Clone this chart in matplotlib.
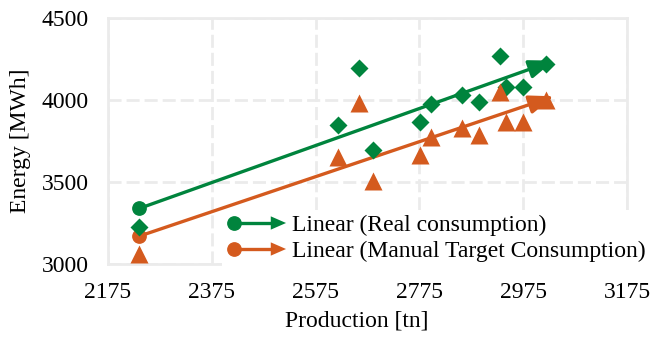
import numpy as np
import matplotlib
matplotlib.use("Agg")
import matplotlib.pyplot as plt
from matplotlib.lines import Line2D
from matplotlib.patches import Polygon
from matplotlib.legend_handler import HandlerBase
from matplotlib.transforms import ScaledTranslation

# ---------------- data ----------------
production = [2235, 2619, 2658, 2685, 2777, 2797, 2858, 2890, 2930, 2942, 2975, 3019]
real_consumption = [3225, 3847, 4198, 3695, 3866, 3977, 4031, 3988, 4268, 4081, 4077, 4219]
target_consumption = [3061, 3650, 3984, 3506, 3665, 3776, 3827, 3787, 4051, 3868, 3868, 3998]

x_ticks = [2175, 2375, 2575, 2775, 2975, 3175]
y_ticks = [3000, 3500, 4000, 4500]

green = "#00843D"
orange = "#D45A1E"
grid_c = "#EBEBEB"

plt.rcParams["font.family"] = ["Liberation Serif", "DejaVu Serif"]
plt.rcParams["font.size"] = 17


class TrendHandler(HandlerBase):
    """circle -> line -> arrow head, like the trendline itself"""
    def create_artists(self, legend, orig_handle, xdescent, ydescent,
                       width, height, fontsize, trans):
        c = orig_handle.get_color()
        y = height / 2 - ydescent
        x0 = -xdescent + 5
        x1 = -xdescent + width
        head, hw = 11, 4.8
        line = Line2D([x0, x1 - head + 1], [y, y], color=c, lw=2.4)
        dot = Line2D([x0], [y], marker="o", ms=9.6, color=c, lw=0)
        tip = Polygon([[x1 - head, y + hw], [x1, y], [x1 - head, y - hw]],
                      closed=True, fc=c, ec="none")
        for a in (line, dot, tip):
            a.set_transform(trans)
        return [line, dot, tip]


fig = plt.figure(figsize=(6.53, 3.38), dpi=100)
ax = fig.add_axes([108 / 653, 1 - 264 / 338, 519 / 653, 246 / 338])
ax.set_xlim(2175, 3175)
ax.set_ylim(3000, 4500)

x = np.array(production, dtype=float)
series = [
    (real_consumption, green, "D", 8.7, "Linear (Real consumption)"),
    (target_consumption, orange, "^", 13, "Linear (Manual Target Consumption)"),
]

handles = []
for vals, c, mk, ms, lab in series:
    y = np.array(vals, dtype=float)
    ax.plot(x, y, linestyle="none", marker=mk, ms=ms, color=c, mec="none", zorder=5)
    # linear trendline over the data range
    k, b = np.polyfit(x, y, 1)
    xs, xe = x.min(), x.max()
    p0 = ax.transData.transform((xs, k * xs + b))
    p1 = ax.transData.transform((xe, k * xe + b))
    u = (p1 - p0) / np.hypot(*(p1 - p0))
    # let the arrow tip poke a little past the last point
    tip_tr = ax.transData + ScaledTranslation(u[0] * 6 / 72, u[1] * 6 / 72,
                                              fig.dpi_scale_trans)
    ax.annotate("", xy=(xe, k * xe + b), xycoords=tip_tr,
                xytext=(xs, k * xs + b), textcoords="data",
                arrowprops=dict(arrowstyle="-|>,head_length=0.75,head_width=0.28",
                                color=c, lw=2.4, shrinkA=0, shrinkB=0,
                                mutation_scale=20), zorder=4)
    ax.plot([xs], [k * xs + b], marker="o", ms=9.6, color=c, lw=0, zorder=4.5)
    handles.append(Line2D([], [], color=c, label=lab))

ax.set_xticks(x_ticks)
ax.set_yticks(y_ticks)
ax.tick_params(length=0)
ax.tick_params(axis="x", pad=13)
ax.tick_params(axis="y", pad=14)

ax.grid(True, color=grid_c, lw=2, linestyle=(0, (4.7, 1.8)))
ax.set_axisbelow(True)
for s in ax.spines.values():
    s.set_color(grid_c)
    s.set_linewidth(2)

ax.set_xlabel("Production [tn]")
ax.set_ylabel("Energy [MWh]")
ax.xaxis.set_label_coords((357 - 108) / 519, -(310 - 264) / 246)
ax.yaxis.set_label_coords(-(108 - 31) / 519, 0.5)

leg = ax.legend(handles=handles, handler_map={Line2D: TrendHandler()},
                loc="center left", bbox_to_anchor=(222.3 / 653, 1 - 238.5 / 338),
                bbox_transform=fig.transFigure, frameon=True, facecolor="white",
                edgecolor="none", framealpha=1, fancybox=False,
                handlelength=2.5, handletextpad=0.25, labelspacing=0.19,
                borderpad=0.2, borderaxespad=0)
leg.set_zorder(2.5)

fig.savefig("out.png", dpi=100)
